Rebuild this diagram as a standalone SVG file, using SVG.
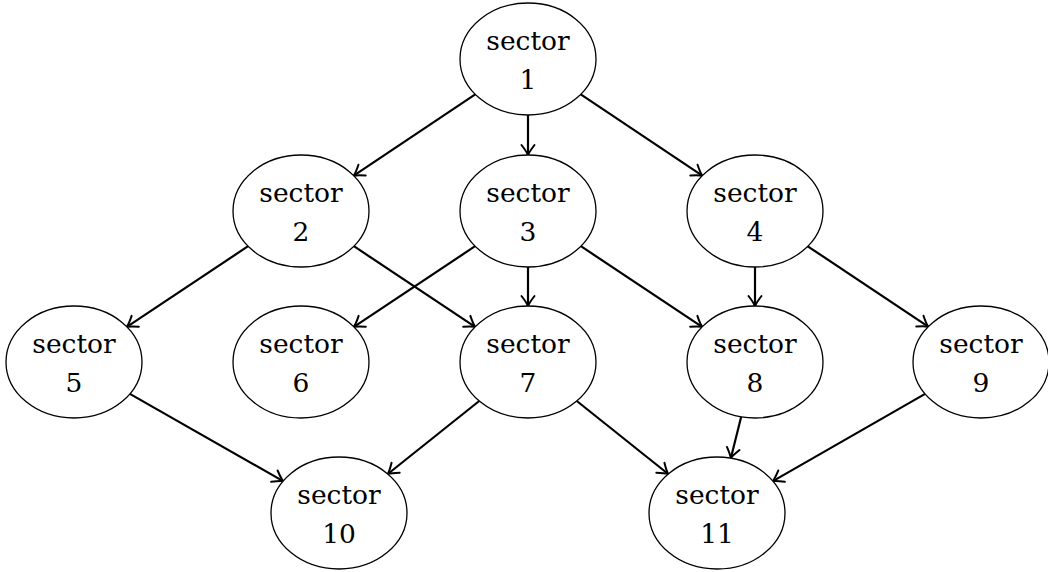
<svg xmlns="http://www.w3.org/2000/svg" width="1048" height="572" viewBox="0 0 1048 572">
<style>
.n ellipse{fill:#fff;stroke:#000;stroke-width:1.3}
.n text{font-family:"DejaVu Serif","Liberation Serif",serif;font-size:26.5px;fill:#000;text-anchor:middle}
.e{stroke:#000;stroke-width:2.2;fill:none}
</style>
<defs>
<marker id="arr" markerUnits="userSpaceOnUse" markerWidth="20" markerHeight="20" refX="10" refY="10" orient="auto" overflow="visible">
<path d="M0,3.5 Q6.5,8.5 10,10 Q6.5,11.5 0,16.5" fill="none" stroke="#000" stroke-width="2" stroke-linecap="round" stroke-linejoin="round"/>
</marker>
</defs>
<rect width="1048" height="572" fill="#fff"/>
<g id="edges">
<line class="e" marker-end="url(#arr)" x1="475.25" y1="94.33" x2="353.75" y2="175.67"/>
<line class="e" marker-end="url(#arr)" x1="528" y1="115" x2="528" y2="155"/>
<line class="e" marker-end="url(#arr)" x1="580.75" y1="94.33" x2="702.25" y2="175.67"/>
<line class="e" marker-end="url(#arr)" x1="248.1" y1="246.2" x2="126.9" y2="326.8"/>
<line class="e" marker-end="url(#arr)" x1="353.9" y1="246.2" x2="475.1" y2="326.8"/>
<line class="e" marker-end="url(#arr)" x1="475.1" y1="246.2" x2="353.9" y2="326.8"/>
<line class="e" marker-end="url(#arr)" x1="528" y1="267" x2="528" y2="306"/>
<line class="e" marker-end="url(#arr)" x1="580.9" y1="246.2" x2="702.1" y2="326.8"/>
<line class="e" marker-end="url(#arr)" x1="755" y1="267" x2="755" y2="306"/>
<line class="e" marker-end="url(#arr)" x1="807.8" y1="246.3" x2="928.2" y2="326.7"/>
<line class="e" marker-end="url(#arr)" x1="129.9" y1="393.9" x2="283.1" y2="481.1"/>
<line class="e" marker-end="url(#arr)" x1="479.2" y1="401" x2="387.8" y2="474"/>
<line class="e" marker-end="url(#arr)" x1="576.8" y1="401" x2="668.2" y2="474"/>
<line class="e" marker-end="url(#arr)" x1="741.2" y1="416.8" x2="730.8" y2="458.2"/>
<line class="e" marker-end="url(#arr)" x1="925.1" y1="393.9" x2="772.9" y2="481.1"/>
</g>
<g id="n1" class="n"><ellipse cx="528" cy="59" rx="68" ry="56"/><text x="528" y="50">sector</text><text x="528" y="89">1</text></g>
<g id="n2" class="n"><ellipse cx="301" cy="211" rx="68" ry="56"/><text x="301" y="202">sector</text><text x="301" y="241">2</text></g>
<g id="n3" class="n"><ellipse cx="528" cy="211" rx="68" ry="56"/><text x="528" y="202">sector</text><text x="528" y="241">3</text></g>
<g id="n4" class="n"><ellipse cx="755" cy="211" rx="68" ry="56"/><text x="755" y="202">sector</text><text x="755" y="241">4</text></g>
<g id="n5" class="n"><ellipse cx="74" cy="362" rx="68" ry="56"/><text x="74" y="353">sector</text><text x="74" y="392">5</text></g>
<g id="n6" class="n"><ellipse cx="301" cy="362" rx="68" ry="56"/><text x="301" y="353">sector</text><text x="301" y="392">6</text></g>
<g id="n7" class="n"><ellipse cx="528" cy="362" rx="68" ry="56"/><text x="528" y="353">sector</text><text x="528" y="392">7</text></g>
<g id="n8" class="n"><ellipse cx="755" cy="362" rx="68" ry="56"/><text x="755" y="353">sector</text><text x="755" y="392">8</text></g>
<g id="n9" class="n"><ellipse cx="981" cy="362" rx="68" ry="56"/><text x="981" y="353">sector</text><text x="981" y="392">9</text></g>
<g id="n10" class="n"><ellipse cx="339" cy="513" rx="68" ry="56"/><text x="339" y="504">sector</text><text x="339" y="543">10</text></g>
<g id="n11" class="n"><ellipse cx="717" cy="513" rx="68" ry="56"/><text x="717" y="504">sector</text><text x="717" y="543">11</text></g>
</svg>
